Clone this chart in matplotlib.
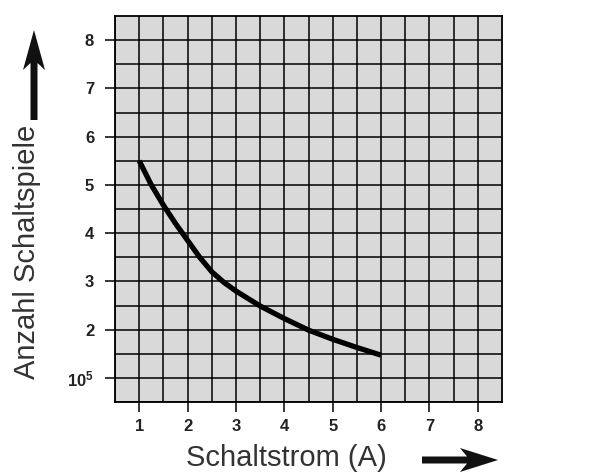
import numpy as np
import matplotlib.pyplot as plt
from matplotlib.patches import Polygon

# Data
strom = [1, 1.25, 1.5, 1.75, 2, 2.25, 2.5, 2.75, 3, 3.5, 4, 4.5, 5, 5.5, 6]
spiele = [5.5, 5.0, 4.58, 4.2, 3.85, 3.5, 3.2, 2.98, 2.8, 2.49, 2.23, 1.99, 1.80, 1.63, 1.47]
tick_pos = [1, 2, 3, 4, 5, 6, 7, 8]
x_labels = ["1", "2", "3", "4", "5", "6", "7", "8"]
y_labels = [r"$\mathbf{10^{5}}$", "2", "3", "4", "5", "6", "7", "8"]

W, H = 590, 473
plt.rcParams['font.family'] = ['Liberation Sans', 'DejaVu Sans']
plt.rcParams['mathtext.fontset'] = 'custom'
plt.rcParams['mathtext.rm'] = 'Liberation Sans'
plt.rcParams['mathtext.bf'] = 'Liberation Sans:bold'

fig = plt.figure(figsize=(W / 100, H / 100), dpi=100)
ax = fig.add_axes([115 / W, 1 - 402 / H, 387 / W, 386 / H])
ax.set_facecolor('#d9d9d9')

ax.plot(strom, spiele, color='black', lw=3.8, solid_capstyle='butt', solid_joinstyle='round', zorder=3)

ax.set_xlim(0.5, 8.5)
ax.set_ylim(0.5, 8.5)
ax.set_xticks(tick_pos)
ax.set_xticklabels(x_labels, fontsize=12, fontweight='bold', color='#222222')
ax.set_yticks(tick_pos)
ax.set_yticklabels(y_labels, fontsize=12, fontweight='bold', color='#222222')
ax.set_xticks([v / 2 for v in range(1, 17)], minor=True)
ax.set_yticks([v / 2 for v in range(1, 17)], minor=True)
ax.tick_params(which='major', length=7, width=1.1, direction='out', color='black')
ax.tick_params(axis='x', pad=5)
ax.tick_params(axis='y', pad=8)
ax.tick_params(which='minor', length=0)
ax.grid(which='both', color='black', lw=1.1)
ax.set_axisbelow(True)
for sp in ax.spines.values():
    sp.set_linewidth(1.3)


def arrow(tail, tip, head_len=38, head_half=12, shaft_half=3.5, notch=7):
    # arrow outline in pixel coords (origin top-left), drawn in figure fraction
    t = np.array(tail, float)
    p = np.array(tip, float)
    d = (p - t) / np.linalg.norm(p - t)
    n = np.array([-d[1], d[0]])
    base = p - d * head_len
    pts = [t + n * shaft_half, base + d * notch + n * shaft_half, base + n * head_half, p,
           base - n * head_half, base + d * notch - n * shaft_half, t - n * shaft_half]
    pts = [(x / W, 1 - y / H) for x, y in pts]
    fig.add_artist(Polygon(pts, closed=True, transform=fig.transFigure,
                           facecolor='#111111', edgecolor='none'))


# axis labels with arrows
fig.text(286 / W, 1 - 458 / H, 'Schaltstrom (A)', fontsize=21, color='#333333',
         ha='center', va='center')
fig.text(27 / W, 1 - 252 / H, 'Anzahl Schaltspiele', fontsize=21, color='#333333',
         rotation=90, ha='center', va='center')
arrow((422, 460), (498, 460))
arrow((34, 120), (34, 30), head_len=40, head_half=11)

plt.savefig('out.png', dpi=100)
